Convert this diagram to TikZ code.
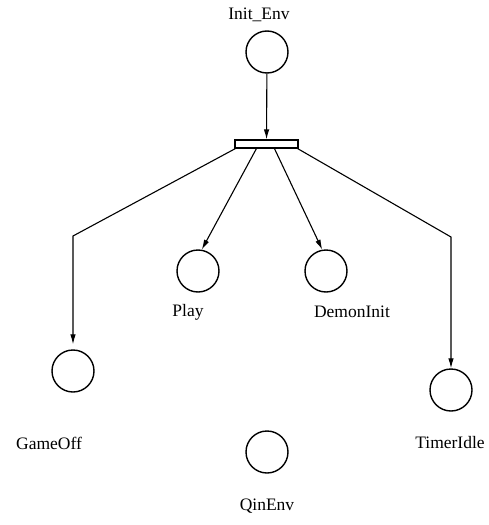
\documentclass[tikz,border=0pt]{standalone}
\usepackage{fontspec}
\setmainfont{Liberation Serif}
\usetikzlibrary{arrows.meta}
\begin{document}
\begin{tikzpicture}[x=1pt,y=-1pt,
  place/.style={circle,draw,line width=1.4pt,minimum size=42pt,inner sep=0pt},
  lbl/.style={font=\fontsize{17.5}{20}\selectfont,inner sep=0pt},
  trans/.style={draw,line width=1.1pt,minimum width=63pt,minimum height=8pt,inner sep=0pt},
  arc/.style={line width=1.1pt,-{Latex[length=10pt,width=5.5pt]}}]
\useasboundingbox (0,0) rectangle (489,525);

% places
\node[place] (initenv) at (267,52) {};
\node[place] (play) at (198,271) {};
\node[place] (demon) at (326,271) {};
\node[place] (gameoff) at (73,371) {};
\node[place] (timer) at (451,390) {};
\node[place] (qinenv) at (267,452) {};

% place labels
\node[lbl] (linit) at (259,15) {Init\_Env};
\node[lbl] (lplay) at (188,312) {Play};
\node[lbl] (ldemon) at (352,312) {DemonInit};
\node[lbl] (lgame) at (49,443) {GameOff};
\node[lbl] (ltimer) at (450,443) {TimerIdle};
\node[lbl] (lqin) at (267,506) {QinEnv};

% transition bar
\node[trans] (t) at (266.5,144) {};

% exit points on the bar and bends
\coordinate (o1) at ([xshift=1pt]t.south west);
\coordinate (o2) at ([xshift=22pt]t.south west);
\coordinate (o3) at ([xshift=40pt]t.south west);
\coordinate (o4) at ([xshift=-1pt]t.south east);
\coordinate (b1) at (73,236);
\coordinate (b4) at (451,237);

% arcs
\draw[arc] (initenv) -- (t);
\draw[arc,shorten >=5pt] (o1) -- (b1) -- (gameoff);
\draw[arc] (o2) -- (play.80);
\draw[arc] (o3) -- (demon.100);
\draw[arc] (o4) -- (b4) -- (timer);
\end{tikzpicture}
\end{document}
